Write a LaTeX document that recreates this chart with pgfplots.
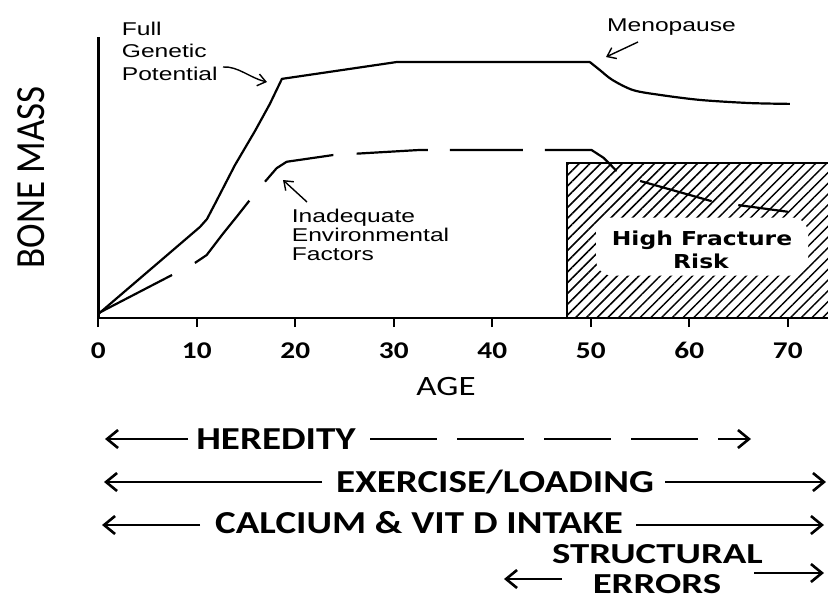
\documentclass[border=0pt]{standalone}
\usepackage{fontspec}
\usepackage{pgfplots}
\pgfplotsset{compat=1.18}
\usetikzlibrary{patterns.meta,arrows.meta}

\newfontfamily\calB[FakeStretch=1.22]{Carlito Bold}
\newfontfamily\calBw[FakeStretch=1.34]{Carlito Bold}
\newfontfamily\calR[FakeStretch=1.25]{Carlito}
\newfontfamily\calplain{Carlito}
\newfontfamily\lib[FakeStretch=1.33]{Liberation Sans}
\newfontfamily\djb[FakeStretch=1.22]{DejaVu Sans Bold}

\newcommand\tickfont{\calB\fontsize{24pt}{28pt}\selectfont}
\newcommand\rowfont{\calB\fontsize{32pt}{36pt}\selectfont}
\newcommand\errfont{\calBw\fontsize{29pt}{30pt}\selectfont}
\newcommand\notefont{\lib\fontsize{18.5pt}{22pt}\selectfont}

\tikzset{
  bigarrow/.style={line width=2.6pt, -{Straight Barb[length=11pt,width=18pt]}},
  smallarrow/.style={line width=1.4pt, -{Straight Barb[length=8pt,width=12pt]}},
}

\begin{document}
\begin{tikzpicture}
\begin{axis}[
  at={(98.3pt,-318pt)}, anchor=south west,
  x=9.85pt, y=2.81pt,
  xmin=0, xmax=74.1, ymin=0, ymax=100,
  axis lines*=left,
  axis line style={line width=2.6pt},
  xtick={0,10,...,70}, ytick=\empty,
  tick align=outside, major tick length=9pt,
  tick style={line width=1.8pt, black},
  xticklabel style={font=\tickfont, anchor=base, yshift=-31pt},
  /pgf/number format/assume math mode=true,
  clip=false,
]
% high fracture risk zone
\addplot[draw=none, pattern={Lines[angle=45, distance=7.6pt, line width=1.5pt]}, pattern color=black]
  coordinates {(47.55,0) (47.55,55.05) (74.1,55.05) (74.1,0)};
\addplot[black, line width=1.8pt, no marks]
  coordinates {(47.55,0) (47.55,55.05) (74.1,55.05)};

% full genetic potential
\addplot[black, line width=2.2pt, no marks, line join=round] coordinates {
 (0,1.4) (10.32,32.4) (11.03,35.2) (11.84,40.6) (13.87,54.4) (15.90,66.5)
 (17.42,76.2) (18.64,85.1) (30.3,91.1) (49.9,91.1)
};
\addplot[black, line width=2.2pt, no marks, smooth, tension=0.5] coordinates {
 (49.9,91.1) (50.9,88.3) (52.2,84.7)
 (54.3,81.1) (57.0,79.4) (61.1,77.6) (66.1,76.5) (70.2,76.2)
};

% inadequate environmental factors
\addplot[black, line width=2.2pt, no marks, line join=round,
  dash pattern=on 83.1pt off 25.8pt on 83.3pt off 24.6pt on 76.9pt off 23.4pt on 71.4pt off 22pt on 73pt off 22pt on 79.4pt off 25.5pt on 74.4pt off 26.9pt on 60pt off 10pt]
  coordinates {
 (0,1.7) (7.48,15.3) (9.81,19.6) (11.0,22.4) (12.68,30.1) (14.04,36.0)
 (15.32,41.7) (16.92,48.5) (18.10,53.3) (19.12,55.6) (23.85,58.0)
 (32.64,59.8) (50.07,59.8) (51.3,57.0) (52.60,52.4) (54.97,48.8)
 (62.24,41.6) (64.94,40.2) (70.02,37.8)
};
\end{axis}

% axis titles
\node[rotate=90, font=\calplain\fontsize{37pt}{40pt}\selectfont] at (31pt,-177.5pt)
  {\scalebox{1}[1.12]{BONE MASS}};
\node[anchor=base, font=\calR\fontsize{28pt}{32pt}\selectfont] at (446pt,-395pt) {AGE};

% annotations
\node[anchor=base west, font=\notefont, inner sep=0] at (121.7pt,-35pt) {Full};
\node[anchor=base west, font=\notefont, inner sep=0] at (121.7pt,-57.5pt) {Genetic};
\node[anchor=base west, font=\notefont, inner sep=0] at (121.7pt,-80pt) {Potential};
\draw[smallarrow] (223pt,-67pt) .. controls (238pt,-66pt) and (250pt,-78pt) .. (267pt,-82pt);

\node[anchor=base west, font=\notefont, inner sep=0] at (607pt,-31pt) {Menopause};
\draw[smallarrow] (638pt,-42pt) -- (606pt,-57pt);

\node[anchor=base west, font=\notefont, inner sep=0] at (291.7pt,-222pt) {Inadequate};
\node[anchor=base west, font=\notefont, inner sep=0] at (291.7pt,-241pt) {Environmental};
\node[anchor=base west, font=\notefont, inner sep=0] at (291.7pt,-260pt) {Factors};
\draw[smallarrow] (307pt,-202pt) -- (283pt,-180pt);

\node[fill=white, rounded corners=16pt, minimum width=212pt, minimum height=58pt, inner sep=0]
  at (702pt,-246.5pt) {};
\node[anchor=base, font=\djb\fontsize{19.2pt}{23pt}\selectfont, inner sep=0] at (702pt,-245pt) {High Fracture};
\node[anchor=base, font=\djb\fontsize{19.2pt}{23pt}\selectfont, inner sep=0] at (701pt,-268pt) {Risk};

% influences
\draw[bigarrow] (188pt,-439pt) -- (105pt,-439pt);
\node[anchor=base, font=\rowfont, inner sep=0] at (276pt,-449pt) {HEREDITY};
\draw[bigarrow, dash pattern=on 67pt off 20pt] (370pt,-439pt) -- (751pt,-439pt);

\draw[bigarrow] (322pt,-482pt) -- (104pt,-482pt);
\node[anchor=base, font=\rowfont, inner sep=0] at (495pt,-492pt) {EXERCISE/LOADING};
\draw[bigarrow] (665pt,-482pt) -- (826pt,-482pt);

\draw[bigarrow] (200pt,-525pt) -- (102pt,-525pt);
\node[anchor=base, font=\rowfont, inner sep=0] at (419pt,-533pt) {CALCIUM \& VIT D INTAKE};
\draw[bigarrow] (636pt,-525pt) -- (824pt,-525pt);

\node[anchor=base, font=\errfont, inner sep=0] at (657.5pt,-563pt) {STRUCTURAL};
\node[anchor=base, font=\errfont, inner sep=0] at (657pt,-593pt) {ERRORS};
\draw[bigarrow] (562pt,-579pt) -- (504pt,-579pt);
\draw[bigarrow] (754pt,-573pt) -- (824pt,-573pt);

\pgfresetboundingbox
\path[use as bounding box] (0pt,0pt) rectangle (828pt,-603pt);
\end{tikzpicture}
\end{document}
